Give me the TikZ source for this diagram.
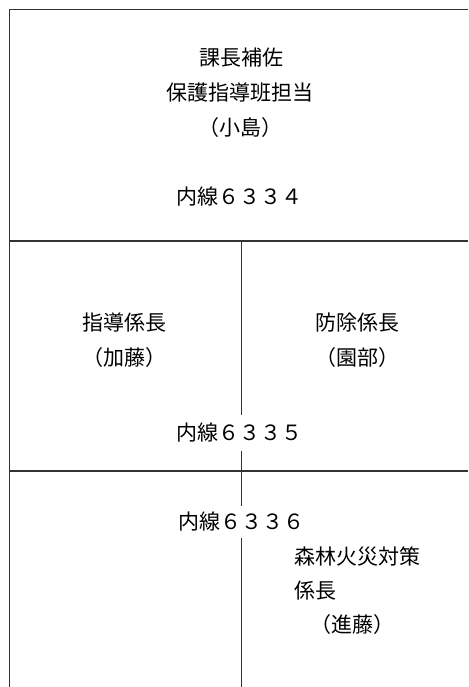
\documentclass[tikz,border=0pt]{standalone}
\usepackage{fontspec}
\setmainfont{Noto Sans CJK JP}
\begin{document}
\begin{tikzpicture}[x=1pt,y=1pt,
  txt/.style={inner sep=0pt,font=\fontsize{21}{35}\selectfont,text=black},
  gapt/.style={txt,inner ysep=8pt},
  rule/.style={draw=black!80,line width=1.2pt}]
\useasboundingbox (0,0) rectangle (468,687);
% frame coordinates
\coordinate (TL) at (9.5,677.5);
\coordinate (TR) at (468,677.5);
\coordinate (BL) at (9.5,0);
\coordinate (H1L) at (9.5,446);
\coordinate (H1R) at (468,446);
\coordinate (H2L) at (9.5,216);
\coordinate (H2R) at (468,216);
\coordinate (VT) at (241.5,446);
\coordinate (VM) at (241.5,216);
\coordinate (VB) at (241.5,0);
% texts
\node[txt] (t1) at (241,629) {課長補佐};
\node[txt] (t2) at (240,594) {保護指導班担当};
\node[txt] (t3) at (240,559) {（小島）};
\node[txt] (t4) at (239,490) {内線６３３４};
\node[txt] (t5) at (124,364) {指導係長};
\node[txt] (t6) at (124,329) {（加藤）};
\node[txt] (t7) at (357,364) {防除係長};
\node[txt] (t8) at (357,329) {（園部）};
\node[gapt] (t9) at (239,254) {内線６３３５};
\node[gapt,inner ysep=6pt] (t10) at (241,165) {内線６３３６};
\node[txt,anchor=west] (t11) at (294,130) {森林火災対策};
\node[txt,anchor=west] (t12) at (294,96) {係長};
\node[txt] (t13) at (352,62) {（進藤）};
% lines
\draw[rule] (BL) -- (TL) -- (TR);
\draw[rule] (H1L) -- (H1R);
\draw[rule] (H2L) -- (H2R);
\draw[rule] (VT) -- (t9.north -| VT);
\draw[rule] (t9.south -| VT) -- (VM) -- (t10.north -| VM);
\draw[rule] (t10.south -| VB) -- (VB);
\end{tikzpicture}
\end{document}
